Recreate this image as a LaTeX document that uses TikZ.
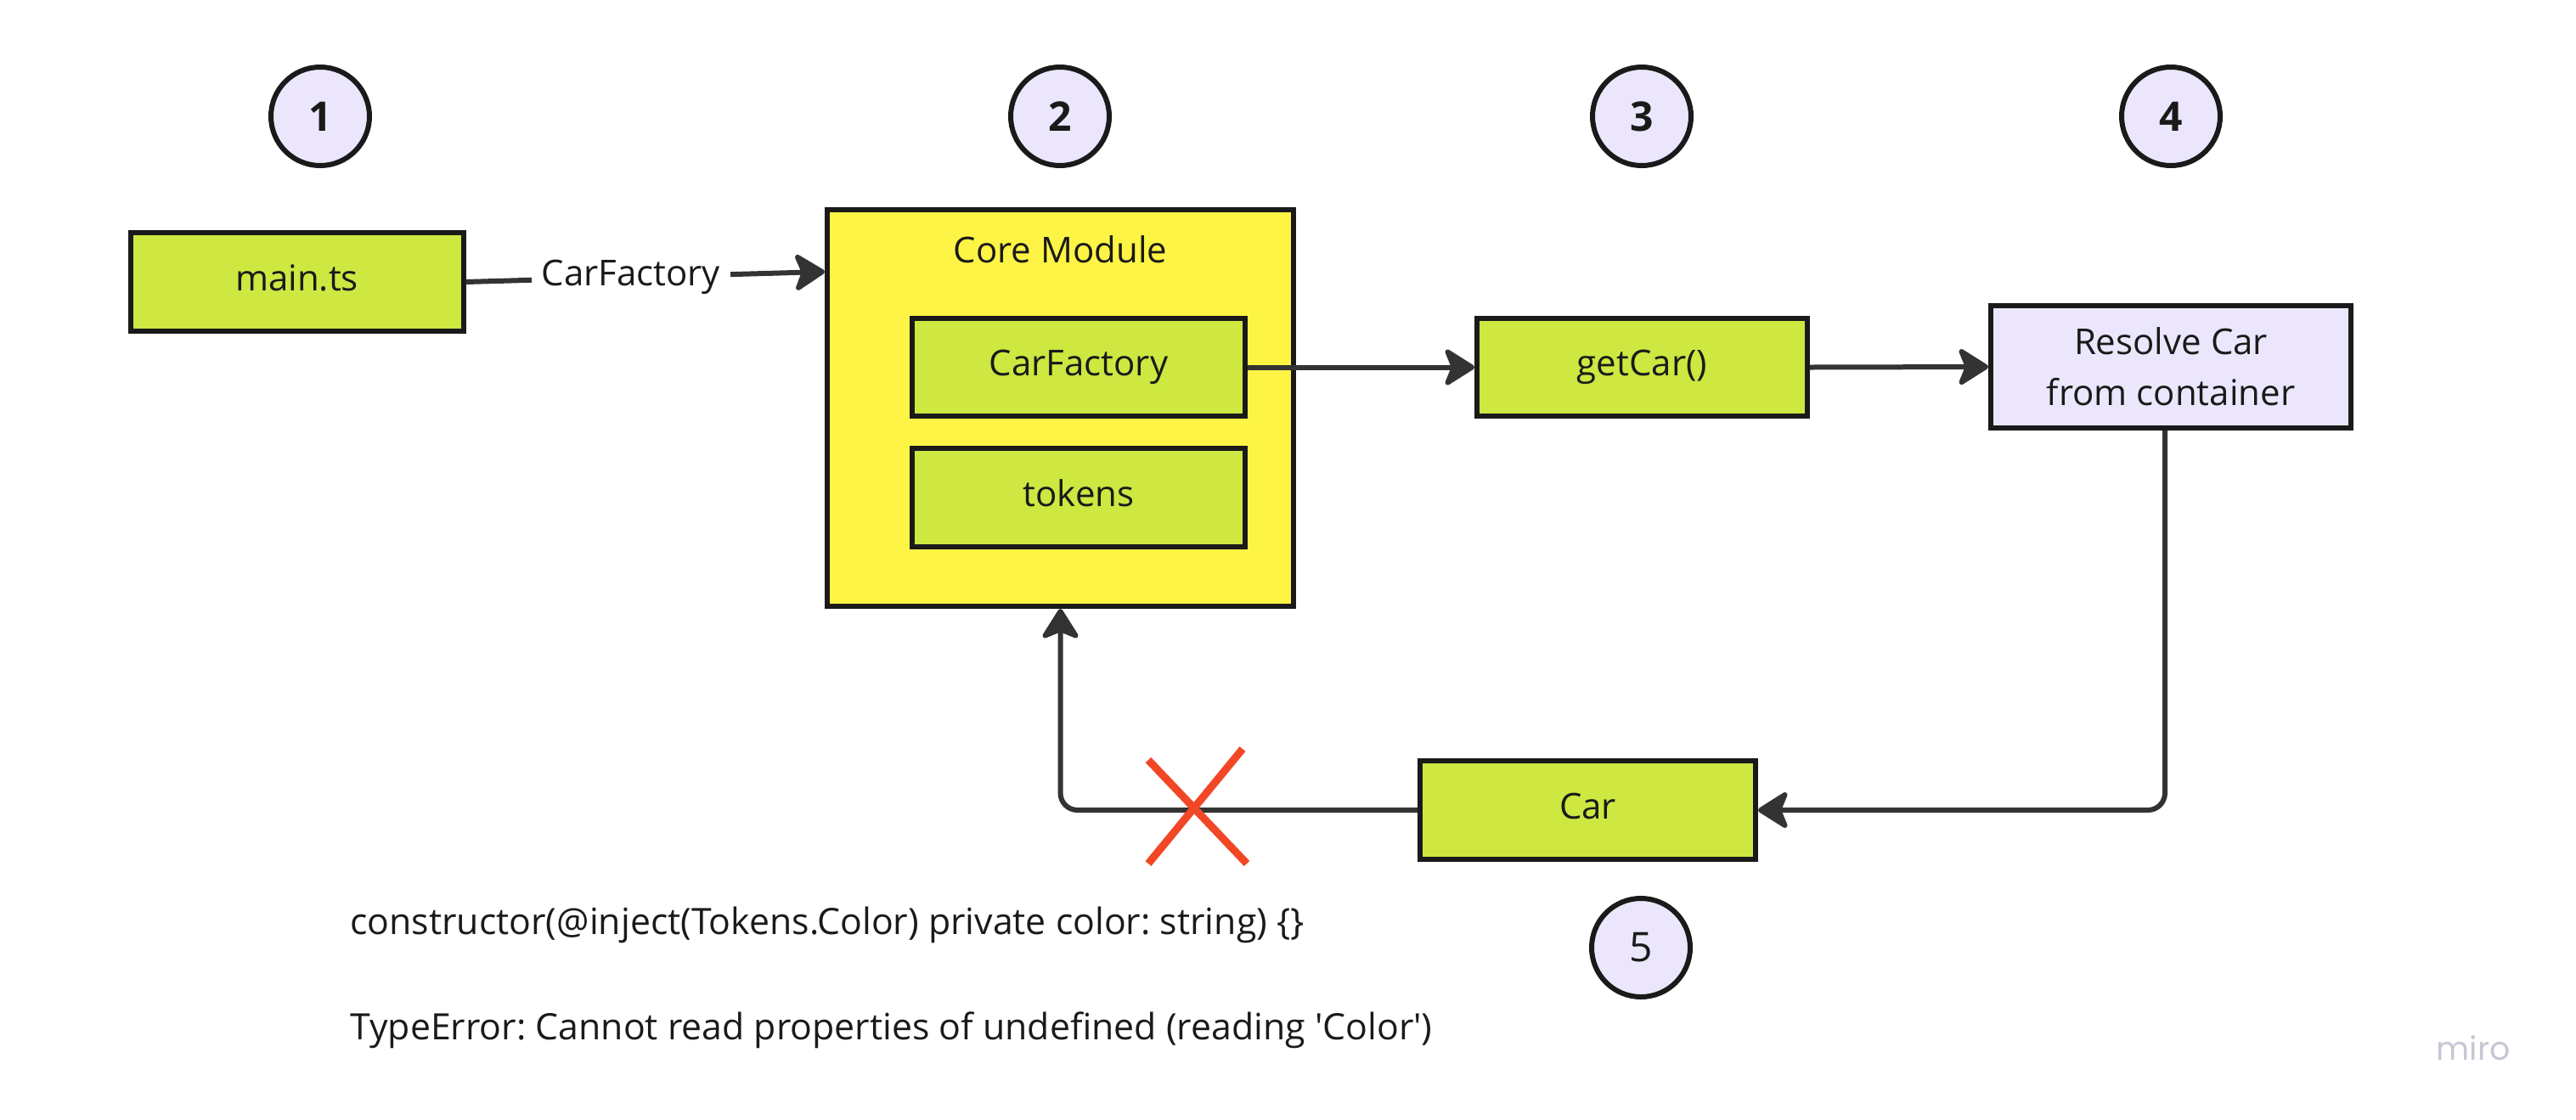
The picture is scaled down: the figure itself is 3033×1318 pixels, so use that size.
\documentclass[tikz,border=0pt]{standalone}
\usepackage{fontspec}
\setmainfont{Open Sans}
\newfontfamily\brandfont{Poppins}
\usetikzlibrary{arrows.meta}
\frenchspacing

\definecolor{boxgreen}{HTML}{CEE741}
\definecolor{boxyellow}{HTML}{FEF445}
\definecolor{lilac}{HTML}{ECE6FC}
\definecolor{edge}{HTML}{1A1A1A}
\definecolor{wire}{HTML}{333333}
\definecolor{crossred}{HTML}{F24726}
\definecolor{brandgray}{HTML}{C6C6D4}

\begin{document}
\begin{tikzpicture}[x=0.5pt,y=-0.5pt]
\tikzset{txt/.style={font=\fontsize{21}{30}\selectfont, text=edge, inner sep=0pt},
         note/.style={txt, font=\fontsize{21.4}{30}\selectfont, anchor=base west},
         box/.style={txt, draw=edge, line width=3pt, fill=boxgreen, minimum width=196pt, minimum height=58pt},
         onebox/.style={box, text height=16pt, text depth=5.9pt},
         num/.style={circle, draw=edge, line width=3pt, fill=lilac, minimum size=58pt, inner sep=0pt,
                     text=edge, font=\fontsize{24}{28}\selectfont\bfseries},
         link/.style={draw=wire, line width=3pt, -{Stealth[length=20pt,width=25pt,inset=5pt,round]}},
         redx/.style={draw=crossred, line width=4.5pt}}
\useasboundingbox (0,0) rectangle (3033,1318);

% step numbers
\node[num] (n1) at (377,137) {1};
\node[num] (n2) at (1248,137) {2};
\node[num] (n3) at (1933,137) {3};
\node[num] (n4) at (2556,137) {4};
\node[num, font=\fontsize{24}{28}\selectfont] (n5) at (1932,1116) {5};

% boxes
\node[onebox] (main) at (349.5,332) {main.ts};
\node[box, fill=boxyellow, minimum width=274.5pt, minimum height=233.5pt] (core) at (1248.5,480.5) {};
\node[txt] (corelbl) at ([yshift=-25pt]core.north) {Core Module};
\node[onebox, minimum height=57.5pt] (factory) at (1270,432.5) {CarFactory};
\node[onebox] (tokens) at (1270,586) {tokens};
\node[onebox, minimum width=194.5pt, minimum height=57.5pt] (getcar) at (1933.5,432.5) {getCar()};
\node[box, fill=lilac, minimum width=212pt, minimum height=72pt, align=center] (resolve) at (2556,432) {Resolve Car\\from container};
\node[onebox, minimum width=197.5pt] (car) at (1869.5,954) {Car};

% connectors
\draw[link] (main.east) -- node[txt, pos=0.46, fill=white, inner sep=6pt] (cflbl) {CarFactory} ([yshift=6pt]core.west |- main.east);
\draw[link] (factory.east) -- (getcar.west);
\draw[link] (getcar.east) -- (resolve.west);
\draw[link, rounded corners=10pt] ([xshift=-3.5pt]resolve.south) |- (car.east);
\draw[link, rounded corners=10pt] (car.west) -| (core.south);

% broken return
\coordinate (cross) at (1406,952);
\draw[redx] (cross) ++(-54,-57) -- ++(116,122);
\draw[redx] (cross) ++(57,-70) -- ++(-111,135);

% notes
\node[note] (ctor) at (412,1100) {constructor(@inject(Tokens.Color) private color: string) \{\}};
\node[note] (err) at (412,1224) {TypeError: Cannot read properties of undefined (reading \textquotesingle Color\textquotesingle)};
\node[font=\brandfont\fontsize{19}{22}\selectfont, text=brandgray, inner sep=0pt] (brand) at (2912,1234) {miro};
\end{tikzpicture}
\end{document}
